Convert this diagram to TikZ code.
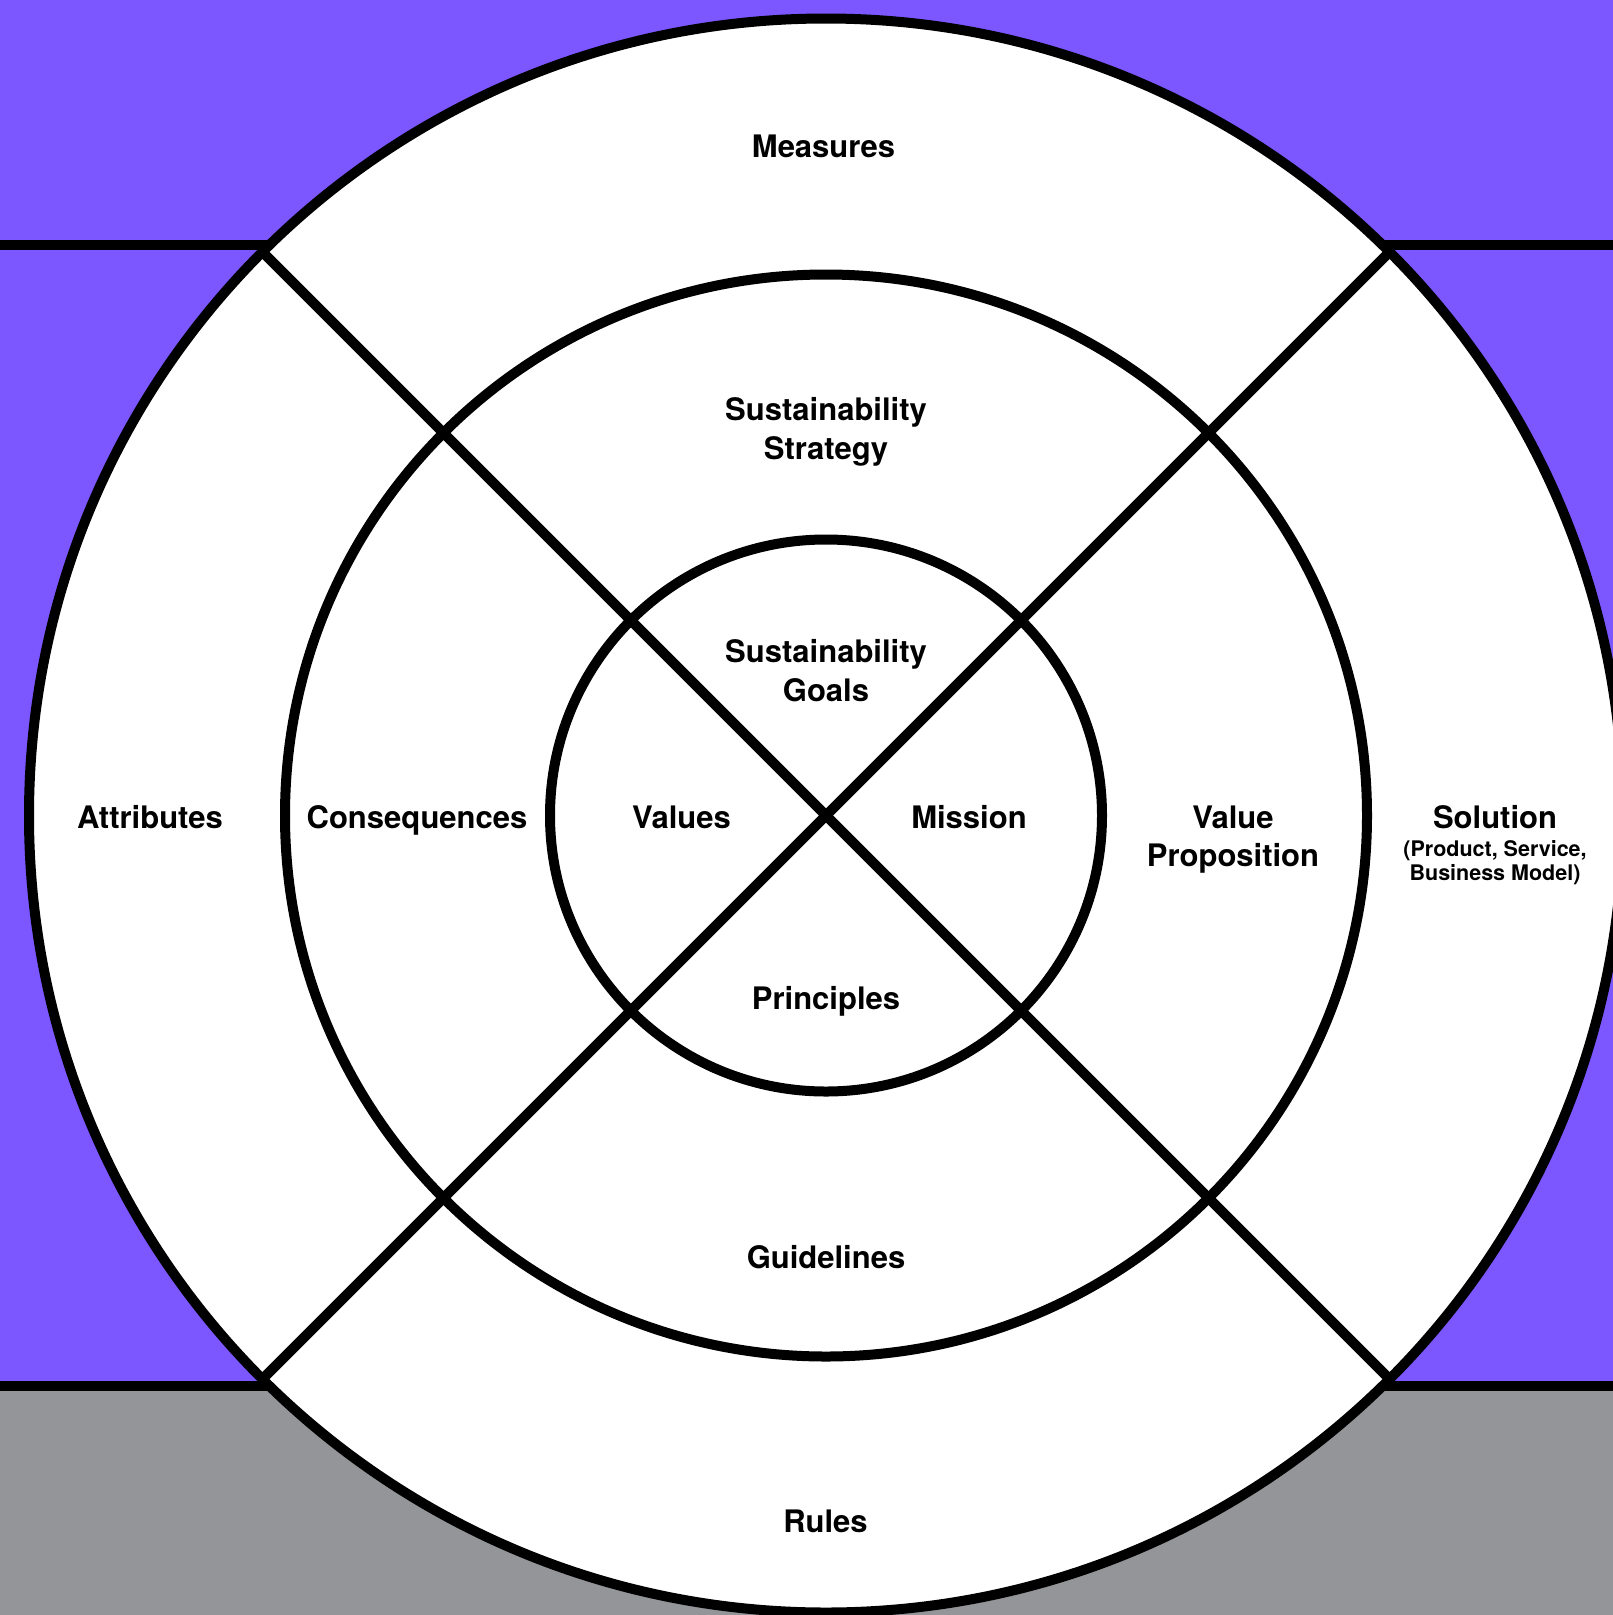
\documentclass[tikz,border=0pt]{standalone}
\usepackage{fontspec}
\setmainfont{TeX Gyre Heros}
\usetikzlibrary{calc}
\definecolor{bgpurple}{RGB}{124,87,255}
\definecolor{bggray}{RGB}{148,149,153}
\begin{document}
\begin{tikzpicture}[x=1pt,y=-1pt,
  ring/.style={line width=10pt, draw=black},
  lbl/.style={font=\fontsize{31}{38.5}\selectfont\bfseries, inner sep=0pt, anchor=base, text=black},
]
\useasboundingbox (0,0) rectangle (1613,1615);
\clip (0,0) rectangle (1613,1615);
% background bands
\fill[bgpurple] (0,0) rectangle (1613,1386);
\fill[bggray] (0,1386) rectangle (1613,1615);
\draw[ring] (0,245) -- (1613,245);
\draw[ring] (0,1386) -- (1613,1386);
% rings
\coordinate (c) at (826,815.5);
\fill[white] (c) circle (797);
\coordinate (se) at ($(c)+(45:797)$);
\coordinate (nw) at ($(c)+(225:797)$);
\coordinate (sw) at ($(c)+(135:797)$);
\coordinate (ne) at ($(c)+(315:797)$);
\draw[ring] (nw) -- (se);
\draw[ring] (ne) -- (sw);
\draw[ring] (c) circle (797);
\draw[ring] (c) circle (541);
\draw[ring] (c) circle (276);
% labels
\node[lbl] (measures) at (823.5,157) {Measures};
\node[lbl] (strategy) at (826,420.5) {\begin{tabular}[t]{@{}c@{}}Sustainability\\Strategy\end{tabular}};
\node[lbl] (goals) at (826,662.5) {\begin{tabular}[t]{@{}c@{}}Sustainability\\Goals\end{tabular}};
\node[lbl] (attributes) at (150,828) {Attributes};
\node[lbl] (consequences) at (417,828) {Consequences};
\node[lbl] (values) at (681.5,828) {Values};
\node[lbl] (mission) at (969,828) {Mission};
\node[lbl] (valueprop) at (1233,828) {\begin{tabular}[t]{@{}c@{}}Value\\Proposition\end{tabular}};
\node[lbl] (solution) at (1495,828) {\begin{tabular}[t]{@{}c@{}}Solution\\[-10.5pt]{\fontsize{21.5}{24}\selectfont (Product, Service,}\\[-14.5pt]{\fontsize{21.5}{24}\selectfont Business Model)}\end{tabular}};
\node[lbl] (principles) at (826,1009) {Principles};
\node[lbl] (guidelines) at (826,1268) {Guidelines};
\node[lbl] (rules) at (825.5,1532) {Rules};
\end{tikzpicture}
\end{document}
